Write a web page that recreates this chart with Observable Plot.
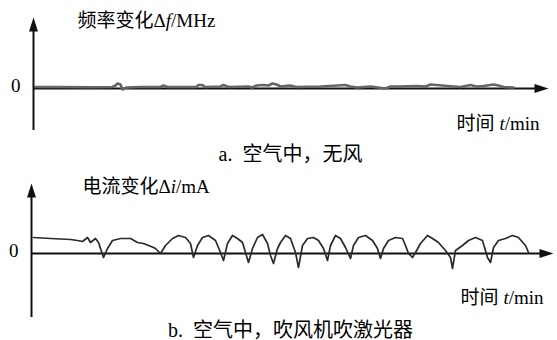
<!DOCTYPE html>
<html><head><meta charset="utf-8">
<script src="https://cdn.jsdelivr.net/npm/d3@7"></script>
<script src="https://cdn.jsdelivr.net/npm/@observablehq/plot@0.6"></script>
<style>
body{margin:0;background:#fff;width:557px;height:340px;overflow:hidden;font-family:"Liberation Serif","Noto Sans CJK SC",serif;}
.cap{width:557px;box-sizing:border-box;padding-left:24px;text-align:center;font-size:20px;color:#000;white-space:pre;}
svg{display:block}
</style></head><body>
<div id="a"></div><div class="cap" id="capA" style="height:28px;line-height:28px"></div>
<div id="b"></div><div class="cap" id="capB" style="height:20px;line-height:20px"></div>
<script>
// ---- text ----
const titleA = [["频率变化Δ", false], ["f", true], ["/MHz", false]];
const titleB = [["电流变化Δ", false], ["i", true], ["/mA", false]];
const xLabel = [["时间 ", false], ["t", true], ["/min", false]];
const captionA = "a.  空气中，无风";
const captionB = "b.  空气中，吹风机吹激光器";
const zeroTick = [0];

// ---- panel a: frequency change (air, no wind) ----
const tA = [0.4, 5.4, 11.4, 15.8, 16.4, 16.8, 17.4, 17.8, 18.6, 21.4, 25.4, 26, 26.8, 30.4, 32.6, 33, 33.8, 34.2, 37.4, 38, 39, 43, 43.8, 44.6, 45.8, 47, 47.8, 48.6, 49.4, 51.4, 52.6, 57.4, 60.8, 62.4, 63.4, 64.8, 67.4, 70.4, 71.4, 73, 76.8, 78.4, 79.4, 80.6, 82.8, 85.4, 87.4, 88.6, 90, 92, 93, 94, 96];
const vA = [0.15, 0.15, 0.12, 0.15, 0.3, 0.5, 0.4, -0.1, 0.1, 0.15, 0.15, 0.3, 0.15, 0.15, 0.15, 0.35, 0.35, 0.15, 0.2, 0.35, 0.15, 0.2, 0.1, 0.3, 0.35, 0.3, 0.5, 0.4, 0.2, 0.3, 0.15, 0.2, 0.3, 0.35, 0.2, 0.1, 0.2, 0.0, 0.2, 0.2, 0.25, 0.2, 0.4, 0.35, 0.25, 0.15, 0.35, 0.2, 0.25, 0.4, 0.3, 0.15, 0.1];
const domainXA = [0, 103];
const domainYA = [-4.2, 7.1];

// ---- panel b: current change (air, hair dryer blowing on laser) ----
const tB = [0.4, 3.8, 7.8, 9.2, 10.2, 11.2, 11.8, 12.8, 13.4, 14.4, 15.2, 16.2, 17.8, 19.8, 21.2, 22.4, 24.4, 24.8, 25.8, 26.8, 28.2, 29.4, 30.8, 31.8, 32.4, 33.2, 34.2, 35.4, 36.8, 37.8, 38.4, 39.2, 40.2, 41.2, 42.2, 42.8, 43.4, 44.2, 45.2, 46.2, 47.2, 47.8, 48.4, 49.2, 49.8, 50.8, 51.8, 52.8, 53.4, 54.2, 55.2, 56.4, 57.4, 58.4, 59.2, 59.8, 60.8, 61.8, 62.8, 63.8, 64.4, 65.4, 66.8, 68.2, 69.2, 69.8, 70.4, 71.4, 72.8, 74.2, 74.8, 75.4, 76.2, 76.8, 77.8, 79.2, 80.2, 81.4, 82.8, 83.8, 84.2, 84.8, 86.2, 87.4, 88.8, 90.2, 91.2, 91.8, 92.4, 93.4, 94.8, 96.2, 97.4, 98.8, 99.4];
const vB = [1.6, 1.5, 1.4, 1.3, 1.2, 1.6, 1.1, 1.5, 1.1, -0.4, 0.5, 1.3, 1.5, 1.5, 1.1, 1.0, 0.6, 0.5, 0.0, 0.8, 1.5, 1.8, 1.6, 1.0, -0.4, 0.8, 1.6, 1.8, 1.3, 0.1, -0.7, 1.0, 1.8, 1.5, 1.1, 0.1, -0.9, 0.5, 1.6, 1.9, 1.0, -0.2, -1.0, 0.5, 1.1, 1.8, 1.5, 0.1, -1.4, 0.8, 1.5, 1.6, 1.3, 0.5, -0.7, 0.8, 1.8, 1.5, 0.6, -0.5, 0.8, 1.6, 1.8, 1.3, 0.5, -0.5, 0.5, 1.3, 1.6, 1.5, 0.8, 0.0, -0.4, 0.1, 1.0, 1.8, 1.5, 1.1, 0.3, -0.4, -1.5, 0.3, 0.8, 1.3, 1.6, 1.3, -0.4, -0.9, 0.6, 1.3, 1.5, 1.8, 1.6, 0.8, 0.1];
const domainXB = [0, 104.4];
const domainYB = [-6.4, 7.0];

// arrowhead symbol: tip at origin, pointing up
const arrowHead = {draw(ctx) { ctx.moveTo(0, 0); ctx.lineTo(-4.5, 14); ctx.lineTo(4.5, 14); ctx.closePath(); }};
const joinParts = p => p.map(d => d[0]).join("");

function panel({t, v, dx, dy, width, height, mt, mb, ml, mr, title, titleDx, xlDx, xlDy, lineColor, lineWidth}) {
  const data = t.map((x, i) => ({t: x, v: v[i]}));
  const svg = Plot.plot({
    width, height, marginTop: mt, marginBottom: mb, marginLeft: ml, marginRight: mr,
    style: {fontFamily: '"Liberation Serif","Noto Sans CJK SC",serif', background: "#fff", color: "#000"},
    x: {domain: dx, axis: null},
    y: {domain: dy, axis: null},
    marks: [
      Plot.ruleY(zeroTick, {stroke: "#111", strokeWidth: 2, insetRight: 8}),
      Plot.line(data, {x: "t", y: "v", stroke: lineColor, strokeWidth: lineWidth, strokeLinejoin: "round"}),
      Plot.ruleX([dx[0]], {stroke: "#111", strokeWidth: 2, insetTop: 8}),
      Plot.dot([{x: dx[1], y: 0}], {x: "x", y: "y", symbol: arrowHead, r: 5, fill: "#111", stroke: "none", rotate: 90}),
      Plot.dot([{x: dx[0], y: dy[1]}], {x: "x", y: "y", symbol: arrowHead, r: 5, fill: "#111", stroke: "none"}),
      Plot.text(zeroTick, {y: d => d, text: d => String(d), frameAnchor: "left", dx: -13, dy: -3, textAnchor: "end", fontSize: 19, fill: "#000"}),
      Plot.text([joinParts(title)], {text: d => d, frameAnchor: "top-left", dx: titleDx, dy: 3, textAnchor: "start", lineAnchor: "middle", fontSize: 19, fill: "#000"}),
      Plot.text([{s: joinParts(xLabel), y: 0}], {y: "y", text: "s", frameAnchor: "right", dx: xlDx, dy: xlDy, textAnchor: "end", lineAnchor: "middle", fontSize: 19, fill: "#000"})
    ]
  });
  // italicize variable letters
  [title, xLabel].forEach(parts => {
    const full = joinParts(parts);
    d3.select(svg).selectAll("text").each(function() {
      if (this.textContent === full) {
        const el = d3.select(this);
        el.text(null);
        parts.forEach(([s, it]) => el.append("tspan").text(s).attr("font-style", it ? "italic" : null));
      }
    });
  });
  return svg;
}

document.getElementById("a").append(panel({
  t: tA, v: vA, dx: domainXA, dy: domainYA, width: 557, height: 140, mt: 17, mb: 10, ml: 33, mr: 9,
  title: titleA, titleDx: 44, xlDx: -9, xlDy: 35, lineColor: "#666", lineWidth: 2.6
}));
document.getElementById("capA").textContent = captionA;
document.getElementById("b").append(panel({
  t: tB, v: vB, dx: domainXB, dy: domainYB, width: 557, height: 152, mt: 15, mb: 3, ml: 31, mr: 4,
  title: titleB, titleDx: 51, xlDx: -10, xlDy: 44, lineColor: "#2a2a2a", lineWidth: 1.7
}));
document.getElementById("capB").textContent = captionB;
</script>
</body></html>
